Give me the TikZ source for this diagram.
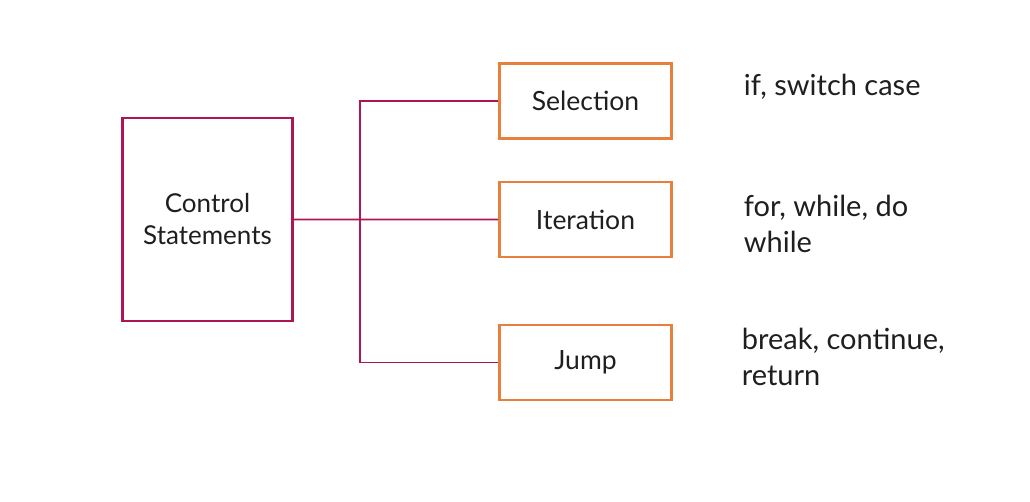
\documentclass[tikz,border=0pt]{standalone}
\usepackage{fontspec}
\setmainfont{Lato}
\usepackage{tikz}
\usetikzlibrary{positioning}
\definecolor{wine}{RGB}{172,22,84}
\definecolor{amber}{RGB}{230,128,58}
\tikzstyle{group} = [rectangle, draw=wine, line width=2.8pt, fill=white, minimum width=170pt, minimum height=203pt, align=center, font=\fontsize{26}{32}\selectfont]
\tikzstyle{kind} = [rectangle, draw=amber, line width=2.8pt, fill=white, minimum width=172pt, minimum height=75pt, font=\fontsize{26.5}{32}\selectfont]
\tikzstyle{note} = [anchor=north west, align=left, inner sep=0pt, font=\fontsize{29}{36}\selectfont]

\begin{document}
\begin{tikzpicture}[x=1pt,y=-1pt,wine,line width=1.8pt,text=black!88]
  \useasboundingbox[fill=white] (0,0) rectangle (1030,501);
  \node[group] (ctrl) at (207.5,219.5) {Control\\Statements};
  \node[kind] (sel) at (585.5,101) {Selection};
  \node[kind] (iter) [below=40.7pt of sel] {Iteration};
  \node[kind] (jump) [below=65.2pt of iter] {Jump};
  \coordinate (bus) at (360,0);

  \node[note] (selnote) at (743,73) {if, switch case};
  \node[note] (iternote) at (743,194) {for, while, do\\while};
  \node[note] (jumpnote) at (741,327) {break, continue,\\return};

  \draw (ctrl.east) -- (iter.west);
  \draw (sel.west) -- (sel.west -| bus) -- (jump.west -| bus) -- (jump.west);
\end{tikzpicture}
\end{document}
